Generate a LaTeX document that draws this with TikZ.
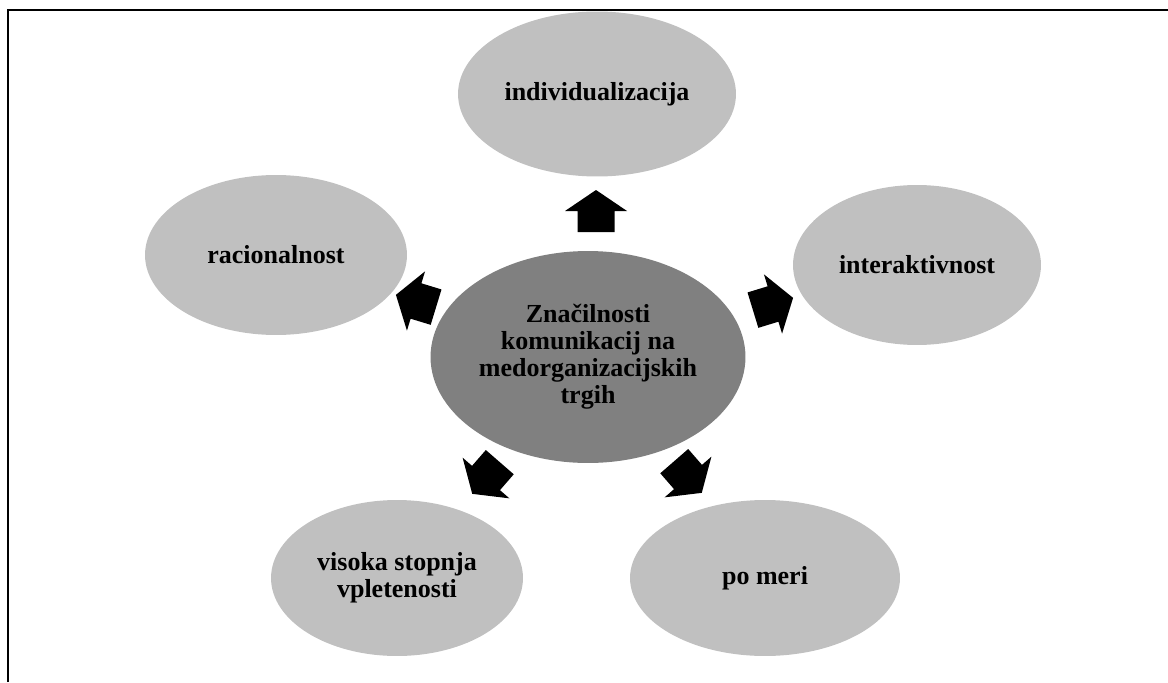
\documentclass[tikz,border=0pt]{standalone}
\usepackage{fontspec}
\setmainfont{Liberation Serif}
\usetikzlibrary{shapes.geometric}

\definecolor{lightgrey}{HTML}{C0C0C0}
\definecolor{midgrey}{HTML}{808080}

\tikzset{
  bubble/.style={ellipse, fill=lightgrey, inner sep=0pt, align=center,
    font=\fontsize{14.8}{15.4}\selectfont\bfseries},
  core/.style={bubble, fill=midgrey},
  pics/blockarrow/.style={code={
    \fill (-21,-18.5) -- (0,-18.5) -- (0,-31) -- (21,0) -- (0,31) -- (0,18.5) -- (-21,18.5) -- cycle;
  }}
}

\begin{document}
\begin{tikzpicture}[x=0.02cm, y=-0.02cm]
        \useasboundingbox (0,0) rectangle (1168,682);
        % ellipses
        \node[core, minimum width=6.3cm, minimum height=4.24cm] (core) at (588,357)
          {Značilnosti\\komunikacij na\\medorganizacijskih\\trgih};
        \node[bubble, minimum width=5.56cm, minimum height=3.3cm] (indiv) at (597,94) {individualizacija};
        \node[bubble, minimum width=5.24cm, minimum height=3.2cm] (racio) at (276,255) {racionalnost};
        \node[bubble, minimum width=4.96cm, minimum height=3.2cm] (inter) at (917,265) {interaktivnost};
        \node[bubble, minimum width=5.04cm, minimum height=3.12cm] (vplet) at (397,578) {visoka stopnja\\vpletenosti};
        \node[bubble, minimum width=5.4cm, minimum height=3.12cm] (meri) at (765,578) {po meri};
        % arrows
        \pic[rotate=90] (upArrow) at (596,211) {blockarrow};
        \pic[rotate=17] (rightArrow) at (773,304) {blockarrow};
        \pic[rotate=163] (leftArrow) at (416,301) {blockarrow};
        \pic[rotate=229] (blArrow) at (486,478) {blockarrow};
        \pic[rotate=311] (brArrow) at (688,477) {blockarrow};
        % frame
        \draw[line width=1.1pt] (8,682) -- (8,10) -- (1168,10);
      \end{tikzpicture}
\end{document}
